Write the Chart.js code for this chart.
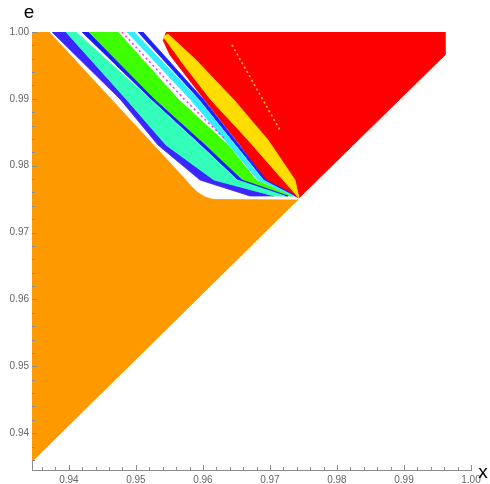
<!DOCTYPE html>
<html><head><meta charset="utf-8">
<script src="https://cdn.jsdelivr.net/npm/chart.js@4/dist/chart.umd.min.js"></script>
<style>html,body{margin:0;padding:0;background:#fff}</style>
</head><body>
<canvas id="c" width="490" height="484"></canvas>
<script>
// axis range and ticks
const axisMin = 0.9345, axisMax = 1.0;
const tickLabels = [0.94, 0.95, 0.96, 0.97, 0.98, 0.99, 1.00];

// region boundaries (x, e)
const orangeX = [0.9345, 0.9345, 0.93704, 0.95703, 0.95808, 0.95912, 0.96031, 0.96151, 0.97419];
const orangeE = [0.9357, 1.0, 1.0, 0.97832, 0.97712, 0.97607, 0.97533, 0.97495, 0.97488];

const redX = [0.95449, 0.99612, 0.99612, 0.97434, 0.96942, 0.96554, 0.96016, 0.95509, 0.95405];
const redE = [1.0, 1.0, 0.99656, 0.97518, 0.97772, 0.9831, 0.98998, 0.99656, 0.9988];

const yellowX = [0.95405, 0.95479, 0.95897, 0.96464, 0.96971, 0.97374, 0.97434, 0.97195, 0.96673, 0.96121, 0.95658];
const yellowE = [0.99925, 0.9997, 0.99581, 0.98983, 0.98385, 0.97787, 0.97518, 0.97787, 0.98385, 0.98983, 0.99581];

// band edges sampled at common e rows
const bandRowsE = [1.0, 0.98998, 0.9831, 0.97787, 0.97548];
const blue1Lo = [0.93748, 0.94763, 0.9533, 0.95957, 0.96703];
const tealLo  = [0.93957, 0.94853, 0.95449, 0.96166, 0.97061];
const tealHi  = [0.94107, 0.95211, 0.95957, 0.96509, 0.97225];
const blue2Lo = [0.94196, 0.95226, 0.95972, 0.96524, 0.97225];
const greenLo = [0.94286, 0.9527, 0.96031, 0.96583, 0.9727];
const greenHi = [0.94733, 0.95628, 0.96375, 0.96792, 0.97315];
const cyanLo  = [0.94868, 0.95808, 0.9639, 0.96822, 0.97329];
const cyanHi  = [0.94972, 0.95927, 0.96479, 0.96897, 0.97359];
const blue3Lo = [0.95032, 0.95942, 0.96494, 0.96912, 0.97374];
const blue3Hi = [0.95106, 0.96002, 0.96539, 0.96942, 0.97389];

// thin streaks
const magentaX = [0.94793, 0.95718, 0.96345];
const magentaE = [1.0, 0.98998, 0.98385];
const streakX = [0.96434, 0.97165];
const streakE = [0.99806, 0.98505];

function zip(xs, es) { return xs.map((x, i) => ({x: x, y: es[i]})); }
function band(lo, hi) {
  const pts = lo.map((x, i) => ({x: x, y: bandRowsE[i]}));
  for (let i = hi.length - 1; i >= 0; i--) pts.push({x: hi[i], y: bandRowsE[i]});
  return pts;
}
function poly(label, data, color, order) {
  return {label, data, showLine: true, fill: 'shape', backgroundColor: color, borderColor: color,
          borderWidth: 0.8, pointRadius: 0, tension: 0, order};
}
function line(label, data, color, dash, order) {
  return {label, data, showLine: true, fill: false, borderColor: color, borderWidth: 1.6,
          borderDash: dash, pointRadius: 0, tension: 0, order};
}

const datasets = [
  poly('orange', zip(orangeX, orangeE), '#FF9900', 10),
  poly('red', zip(redX, redE), '#FF0000', 10),
  poly('blue1', band(blue1Lo, tealLo), '#3A26FF', 9),
  poly('teal', band(tealLo, tealHi), '#33FFBB', 8),
  poly('blue2', band(blue2Lo, greenLo), '#1A1AFF', 8),
  poly('green', band(greenLo, greenHi), '#3DFF00', 8),
  poly('cyan', band(cyanLo, cyanHi), '#33EEFF', 8),
  poly('blue3', band(blue3Lo, blue3Hi), '#2020FF', 8),
  poly('yellow', zip(yellowX, yellowE), '#FFDD00', 5),
  line('magenta', zip(magentaX, magentaE), '#FF33FF', [2, 3], 4),
  line('streak', zip(streakX, streakE), '#FFCC00', [2, 3], 4)
];

const tickPlugin = {
  id: 'inTicks',
  afterDatasetsDraw(chart) {
    const {ctx, chartArea: a, scales: {x, y}} = chart;
    ctx.save();
    ctx.strokeStyle = '#8c8c8c';
    ctx.lineWidth = 1;
    for (let k = 468; k <= 500; k++) {
      const v = k / 500;
      const len = (k % 5 === 0) ? 5 : 3;
      const px = Math.round(x.getPixelForValue(v)) + 0.5;
      ctx.beginPath(); ctx.moveTo(px, a.bottom); ctx.lineTo(px, a.bottom - len); ctx.stroke();
      const py = Math.round(y.getPixelForValue(v)) + 0.5;
      ctx.beginPath(); ctx.moveTo(a.left, py); ctx.lineTo(a.left + len, py); ctx.stroke();
    }
    ctx.fillStyle = '#000';
    ctx.font = '19px "Liberation Sans", Arial, sans-serif';
    ctx.textAlign = 'center';
    ctx.textBaseline = 'alphabetic';
    ctx.fillText('e', a.left - 3, a.top - 14);
    ctx.fillText('x', a.right + 12, a.bottom + 8);
    ctx.restore();
  }
};

const tickFont = {family: '"Liberation Sans", Arial, sans-serif', size: 10};
new Chart(document.getElementById('c'), {
  type: 'scatter',
  data: {datasets},
  options: {
    responsive: false,
    animation: false,
    layout: {padding: {top: 32, right: 19, left: 0, bottom: 0}},
    plugins: {legend: {display: false}, tooltip: {enabled: false}},
    scales: {
      x: {
        type: 'linear', min: axisMin, max: axisMax,
        afterFit(s) { s.height = 14; },
        afterBuildTicks(s) { s.ticks = tickLabels.map(v => ({value: v})); },
        grid: {display: false, drawTicks: false},
        border: {display: true, color: '#8c8c8c', width: 1},
        ticks: {padding: 4, color: '#666', font: tickFont,
                autoSkip: false, maxRotation: 0, callback: v => Number(v).toFixed(2)}
      },
      y: {
        type: 'linear', min: axisMin, max: axisMax,
        afterFit(s) { s.width = 32; },
        afterBuildTicks(s) { s.ticks = tickLabels.map(v => ({value: v})); },
        grid: {display: false, drawTicks: false},
        border: {display: true, color: '#8c8c8c', width: 1},
        ticks: {padding: 3, color: '#666', font: tickFont,
                autoSkip: false, callback: v => Number(v).toFixed(2)}
      }
    }
  },
  plugins: [tickPlugin]
});
</script>
</body></html>
